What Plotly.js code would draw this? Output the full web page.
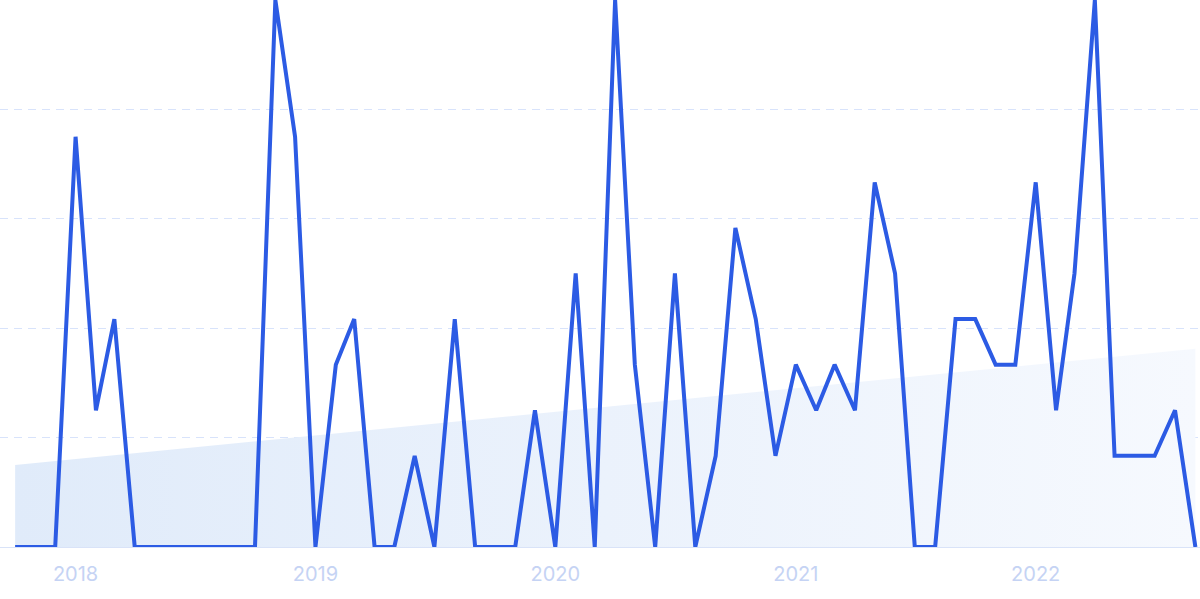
<!DOCTYPE html>
<html>
<head>
<meta charset="utf-8">
<script src="https://cdn.plot.ly/plotly-3.0.1.min.js"></script>
<style>
html,body{margin:0;padding:0;background:#fff;}
#chart{width:1200px;height:599px;}
</style>
</head>
<body>
<div id="chart"></div>
<script>
const months = [
 "2017-10-01","2017-11-01","2017-12-01",
 "2018-01-01","2018-02-01","2018-03-01","2018-04-01","2018-05-01","2018-06-01","2018-07-01","2018-08-01","2018-09-01","2018-10-01","2018-11-01","2018-12-01",
 "2019-01-01","2019-02-01","2019-03-01","2019-04-01","2019-05-01","2019-06-01","2019-07-01","2019-08-01","2019-09-01","2019-10-01","2019-11-01","2019-12-01",
 "2020-01-01","2020-02-01","2020-03-01","2020-04-01","2020-05-01","2020-06-01","2020-07-01","2020-08-01","2020-09-01","2020-10-01","2020-11-01","2020-12-01",
 "2021-01-01","2021-02-01","2021-03-01","2021-04-01","2021-05-01","2021-06-01","2021-07-01","2021-08-01","2021-09-01","2021-10-01","2021-11-01","2021-12-01",
 "2022-01-01","2022-02-01","2022-03-01","2022-04-01","2022-05-01","2022-06-01","2022-07-01","2022-08-01","2022-09-01"
];
const values = [
 0,0,0,
 9,3,5,0,0,0,0,0,0,0,12,9,
 0,4,5,0,0,2,0,5,0,0,0,3,
 0,6,0,12,4,0,6,0,2,7,5,2,
 4,3,4,3,8,6,0,0,5,5,4,4,
 8,3,6,12,2,2,2,3,0
];
const trendX = ["2017-10-01","2022-09-01"];
const trendY = [1.8, 4.35];
const yearTicks = ["2018-01-01","2019-01-01","2020-01-01","2021-01-01","2022-01-01"];
const yearLabels = ["2018","2019","2020","2021","2022"];

const traces = [
 {
  x: trendX, y: trendY, type: 'scatter', mode: 'lines',
  line: {width: 0, color: 'rgba(0,0,0,0)'},
  fill: 'tozeroy',
  fillcolor: '#e6effb',
  fillgradient: {type: 'horizontal', colorscale: [[0,'#e0ebfa'],[0.5,'#ebf2fc'],[1,'#f6f9fe']]},
  hoverinfo: 'skip', showlegend: false
 },
 {
  x: months, y: values, type: 'scatter', mode: 'lines',
  line: {color: '#2c5be4', width: 4, shape: 'linear'},
  showlegend: false
 }
];

const layout = {
 width: 1200, height: 599,
 margin: {l: 0, r: 0, t: 0, b: 52, pad: 0},
 paper_bgcolor: '#ffffff', plot_bgcolor: '#ffffff',
 font: {family: 'Inter, "Noto Sans", sans-serif'},
 xaxis: {
  type: 'date',
  range: ["2017-09-08", "2022-09-08"],
  tickvals: yearTicks, ticktext: yearLabels,
  showgrid: false, zeroline: false,
  showline: true, linecolor: '#d9e3f8', linewidth: 1,
  ticks: '', ticklabelstandoff: 9,
  tickfont: {size: 20, color: '#c5d3f4', family: 'Inter, "Noto Sans", sans-serif'},
  fixedrange: true
 },
 yaxis: {
  range: [0, 12],
  tick0: 0, dtick: 2.4,
  showticklabels: false,
  showgrid: true, gridcolor: '#d8e3fb', griddash: '8px,6px', gridwidth: 1.2,
  zeroline: false, showline: false,
  fixedrange: true
 }
};

Plotly.newPlot('chart', traces, layout, {displayModeBar: false, staticPlot: true});
</script>
</body>
</html>
